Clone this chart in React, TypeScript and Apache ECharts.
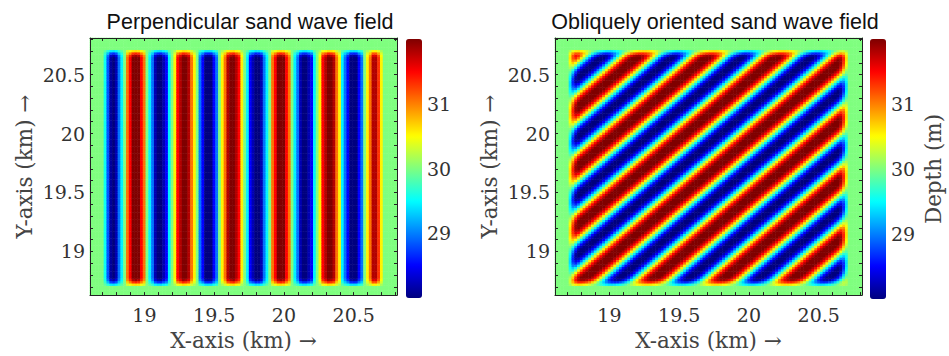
import React, { useEffect, useRef } from "react";
import * as echarts from "echarts";

// ---- data ----
const xRange = [18.61, 20.81]; // km, axis extent (x)
const yRange = [18.63, 20.81]; // km, axis extent (y)
const cellKm = 0.02; // heatmap cell size (km)
const xTicks = [19, 19.5, 20, 20.5];
const yTicks = [19, 19.5, 20, 20.5];
const frameTicks = [18.7, 18.8, 18.9, 19, 19.1, 19.2, 19.3, 19.4, 19.5, 19.6, 19.7, 19.8, 19.9, 20, 20.1, 20.2, 20.3, 20.4, 20.5, 20.6, 20.7, 20.8];
const depthRange = [28, 32];
const depthTicks = [29, 30, 31];
const meanDepth = 30;
const fieldX = [18.71, 20.71]; // km, extent of the sand wave field
const fieldY = [18.71, 20.71];
// one wavelength of depth (m), starting at a trough (deepest, red stripe)
const waveProfile = [32.1, 32.0, 31.8, 31.5, 31.05, 30.55, 30.0, 29.45, 28.95, 28.5, 28.2, 27.95, 27.9, 27.95, 28.2, 28.5, 28.95, 29.45, 30.0, 30.55, 31.05, 31.5, 31.8, 32.0];
const perpWavelength = 0.3465; // km, spacing of stripes along x
const perpTroughX = 18.94; // km, x of first red stripe centre
const obliqueWavelengthX = 0.5; // km, spacing of diagonal stripes along x
const obliqueTroughOffset = 0.05; // km, (x - y) of a red stripe
// amplitude kept at distance (km) inside the field edge
const edgeFadeKm = [0, 0.02, 0.04, 0.06];
const edgeFade = [0.3, 0.65, 0.9, 1];
const titles = ["Perpendicular sand wave field", "Obliquely oriented sand wave field"];
const jet = ["#00007f", "#0000ff", "#007fff", "#00ffff", "#7fff7f", "#ffff00", "#ff7f00", "#ff0000", "#7f0000"];

const nx = Math.round((xRange[1] - xRange[0]) / cellKm);
const ny = Math.round((yRange[1] - yRange[0]) / cellKm);

function fadeAt(a: number, b: number) {
  const d = Math.min(a, b);
  if (d < 0) return 0;
  let f = edgeFade[0];
  for (let k = 0; k < edgeFadeKm.length; k++) if (d >= edgeFadeKm[k]) f = edgeFade[k];
  return f;
}

function buildField(kind: "perp" | "oblique") {
  const data: number[][] = [];
  for (let i = 0; i < nx; i++) {
    const x = xRange[0] + (i + 0.5) * cellKm;
    for (let j = 0; j < ny; j++) {
      const y = yRange[0] + (j + 0.5) * cellKm;
      const fade = fadeAt(x - fieldX[0], fieldX[1] - x) * fadeAt(y - fieldY[0], fieldY[1] - y);
      let v = meanDepth;
      if (fade > 0) {
        const phase = kind === "perp" ? (x - perpTroughX) / perpWavelength : (x - y - obliqueTroughOffset) / obliqueWavelengthX;
        const frac = phase - Math.floor(phase);
        const k = Math.round(frac * waveProfile.length) % waveProfile.length;
        v = meanDepth + (waveProfile[k] - meanDepth) * fade;
      }
      data.push([i, j, +v.toFixed(3)]);
    }
  }
  return data;
}

const SERIF = "DejaVu Serif";
const SANS = "Liberation Sans";
const FRAME = "#222";

export default function App() {
  const ref = useRef<HTMLDivElement>(null);
  useEffect(() => {
    document.body.style.margin = "0";
    const chart = echarts.init(ref.current!, undefined, { renderer: "svg" });
    const cols = Array.from({ length: nx }, (_, i) => String(i));
    const rows = Array.from({ length: ny }, (_, i) => String(i));
    const grids = [
      { left: 90, top: 38, width: 307, height: 260 },
      { left: 555, top: 38, width: 307, height: 261 },
    ];
    const cbGrids = [
      { left: 406, top: 39, width: 16, height: 259 },
      { left: 870, top: 39, width: 16, height: 260 },
    ];
    const xAxis: any[] = [];
    const yAxis: any[] = [];
    const label = { fontFamily: SERIF, fontSize: 19, color: "#333" };
    const nameStyle = { fontFamily: SERIF, fontSize: 21.5, color: "#444" };
    for (let p = 0; p < 2; p++) {
      xAxis.push({ type: "category", gridIndex: p, data: cols, show: false });
      xAxis.push({
        type: "value", gridIndex: p, position: "bottom", min: xRange[0], max: xRange[1], z: 10,
        axisLine: { show: true, lineStyle: { color: FRAME, width: 1 } },
        axisTick: { show: true, inside: true, length: 3, customValues: frameTicks, lineStyle: { color: FRAME } },
        axisLabel: { ...label, customValues: xTicks, margin: 10 },
        splitLine: { show: false },
        name: "X-axis (km) →", nameLocation: "middle", nameGap: 33,
        nameTextStyle: nameStyle,
      });
      xAxis.push({
        type: "value", gridIndex: p, position: "top", min: xRange[0], max: xRange[1], z: 10,
        axisLine: { show: true, lineStyle: { color: FRAME, width: 1 } },
        axisTick: { show: true, inside: true, length: 3, customValues: frameTicks, lineStyle: { color: FRAME } },
        axisLabel: { show: false }, splitLine: { show: false },
      });
      yAxis.push({ type: "category", gridIndex: p, data: rows, show: false });
      yAxis.push({
        type: "value", gridIndex: p, position: "left", min: yRange[0], max: yRange[1], z: 10,
        axisLine: { show: true, lineStyle: { color: FRAME, width: 1 } },
        axisTick: { show: true, inside: true, length: 3, customValues: frameTicks, lineStyle: { color: FRAME } },
        axisLabel: { ...label, customValues: yTicks, margin: 5 },
        splitLine: { show: false },
        name: "Y-axis (km) →", nameLocation: "middle", nameGap: 55, nameRotate: 90,
        nameTextStyle: nameStyle,
      });
      yAxis.push({
        type: "value", gridIndex: p, position: "right", min: yRange[0], max: yRange[1], z: 10,
        axisLine: { show: true, lineStyle: { color: FRAME, width: 1 } },
        axisTick: { show: true, inside: true, length: 3, customValues: frameTicks, lineStyle: { color: FRAME } },
        axisLabel: { show: false }, splitLine: { show: false },
      });
    }
    for (let p = 0; p < 2; p++) {
      xAxis.push({ type: "value", gridIndex: 2 + p, show: false });
      yAxis.push({
        type: "value", gridIndex: 2 + p, position: "right", min: depthRange[0], max: depthRange[1], interval: 1, z: 10,
        axisLine: { show: false }, axisTick: { show: false }, splitLine: { show: false },
        axisLabel: { ...label, customValues: depthTicks, margin: 5 },
        ...(p === 1
          ? { name: "Depth (m)", nameLocation: "middle", nameGap: 36, nameRotate: 90, nameTextStyle: nameStyle }
          : {}),
      });
    }
    chart.setOption({
      animation: false,
      backgroundColor: "#fff",
      title: titles.map((t, p) => ({
        text: t, left: p === 0 ? 245 : 710, top: 6, textAlign: "center",
        textStyle: { fontFamily: SANS, fontSize: 21.5, fontWeight: "normal", color: "#111" },
      })),
      grid: [...grids, ...cbGrids],
      xAxis, yAxis,
      visualMap: [0, 1].map((p) => ({
        type: "continuous", seriesIndex: p, dimension: 2, min: depthRange[0], max: depthRange[1],
        left: cbGrids[p].left, top: cbGrids[p].top, itemWidth: cbGrids[p].width, itemHeight: cbGrids[p].height,
        calculable: false, padding: 0, inRange: { color: jet }, hoverLink: false,
      })),
      series: [
        { type: "heatmap", xAxisIndex: 0, yAxisIndex: 0, data: buildField("perp"), progressive: 0, emphasis: { disabled: true } },
        { type: "heatmap", xAxisIndex: 3, yAxisIndex: 3, data: buildField("oblique"), progressive: 0, emphasis: { disabled: true } },
      ],
    });
    return () => chart.dispose();
  }, []);
  return <div ref={ref} style={{ width: 949, height: 356 }} />;
}
